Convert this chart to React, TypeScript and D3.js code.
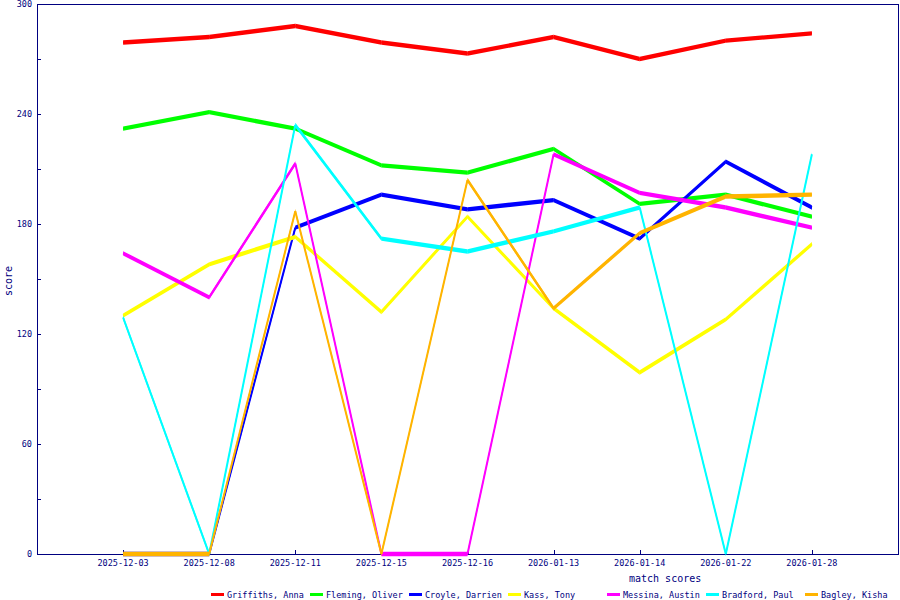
import * as d3 from "d3";

// match dates along the x axis
const dates = [
  "2025-12-03",
  "2025-12-08",
  "2025-12-11",
  "2025-12-15",
  "2025-12-16",
  "2026-01-13",
  "2026-01-14",
  "2026-01-22",
  "2026-01-28",
];

const players = [
  "Griffiths, Anna",
  "Fleming, Oliver",
  "Croyle, Darrien",
  "Kass, Tony",
  "Messina, Austin",
  "Bradford, Paul",
  "Bagley, Kisha",
];

const colors = ["#ff0000", "#00ff00", "#0000ff", "#ffff00", "#ff00ff", "#00ffff", "#ffb400"];

const griffiths = [279, 282, 288, 279, 273, 282, 270, 280, 284];
const fleming = [232, 241, 232, 212, 208, 221, 191, 196, 184];
const croyle = [0, 0, 178, 196, 188, 193, 172, 214, 189];
const kass = [130, 158, 173, 132, 184, 134, 99, 128, 169];
const messina = [164, 140, 213, 0, 0, 218, 197, 189, 178];
const bradford = [129, 0, 234, 172, 165, 176, 189, 0, 218];
const bagley = [0, 0, 187, 0, 204, 134, 175, 195, 196];

const series = [griffiths, fleming, croyle, kass, messina, bradford, bagley];

const yLabels = [0, 60, 120, 180, 240, 300];
const yMinor = [30, 90, 150, 210, 270];

const NAVY = "#000080";
const FONT = "'DejaVu Sans Mono', monospace";

const App = () => {
  const left = 37,
    right = 898,
    top = 4,
    bottom = 554;

  const x = d3.scalePoint<string>().domain(dates).range([left, right]).padding(1);
  const y = d3.scaleLinear().domain([0, 300]).range([bottom, top]);

  // old-style thick lines: constant vertical thickness per segment
  const half = 2.2;

  return (
    <svg
      width={900}
      height={600}
      style={{ position: "absolute", left: 0, top: 0, background: "#fff" }}
    >
      <rect x={0} y={0} width={900} height={600} fill="#fff" />

      {/* frame */}
      <g shapeRendering="crispEdges" stroke={NAVY} fill="none">
        <rect x={left + 0.5} y={top + 0.5} width={right - left} height={bottom - top} />
        {yLabels.concat(yMinor).map((v) => (
          <line key={"yt" + v} x1={left} x2={left + 4} y1={Math.round(y(v)) + 0.5} y2={Math.round(y(v)) + 0.5} />
        ))}
        {dates.map((d) => (
          <line key={"xt" + d} x1={Math.round(x(d)!) + 0.5} x2={Math.round(x(d)!) + 0.5} y1={bottom} y2={bottom - 4} />
        ))}
      </g>

      {/* y labels */}
      {yLabels.map((v) => (
        <text
          key={"yl" + v}
          x={32}
          y={y(v) + 3}
          textAnchor="end"
          fontFamily={FONT}
          fontSize={8.5}
          fill={NAVY}
        >
          {v}
        </text>
      ))}

      {/* x labels */}
      {dates.map((d) => (
        <text
          key={"xl" + d}
          x={x(d)!}
          y={566}
          textAnchor="middle"
          fontFamily={FONT}
          fontSize={8.5}
          fill={NAVY}
        >
          {d}
        </text>
      ))}

      {/* axis titles */}
      <text x={629} y={582} fontFamily={FONT} fontSize={10} fill={NAVY}>
        match scores
      </text>
      <text
        transform={`translate(12, ${(top + bottom) / 2 + 2}) rotate(-90)`}
        textAnchor="middle"
        fontFamily={FONT}
        fontSize={10}
        fill={NAVY}
      >
        score
      </text>

      {/* series lines */}
      {series.map((vals, si) => (
        <g key={"s" + si} fill={colors[si]} stroke={colors[si]}>
          {vals.slice(1).map((v, i) => {
            const x1 = x(dates[i])!,
              x2 = x(dates[i + 1])!,
              y1 = y(vals[i]),
              y2 = y(v);
            return (
              <g key={i}>
                <polygon
                  stroke="none"
                  points={`${x1},${y1 - half} ${x2},${y2 - half} ${x2},${y2 + half} ${x1},${y1 + half}`}
                />
                <line x1={x1} y1={y1} x2={x2} y2={y2} strokeWidth={2} />
              </g>
            );
          })}
        </g>
      ))}

      {/* legend */}
      {players.map((p, i) => {
        const lx = 211 + i * 99;
        return (
          <g key={"lg" + p}>
            <line x1={lx} x2={lx + 13} y1={594.5} y2={594.5} stroke={colors[i]} strokeWidth={3} />
            <text x={lx + 16} y={597.5} fontFamily={FONT} fontSize={8.5} fill={NAVY}>
              {p}
            </text>
          </g>
        );
      })}
    </svg>
  );
};

export default App;
